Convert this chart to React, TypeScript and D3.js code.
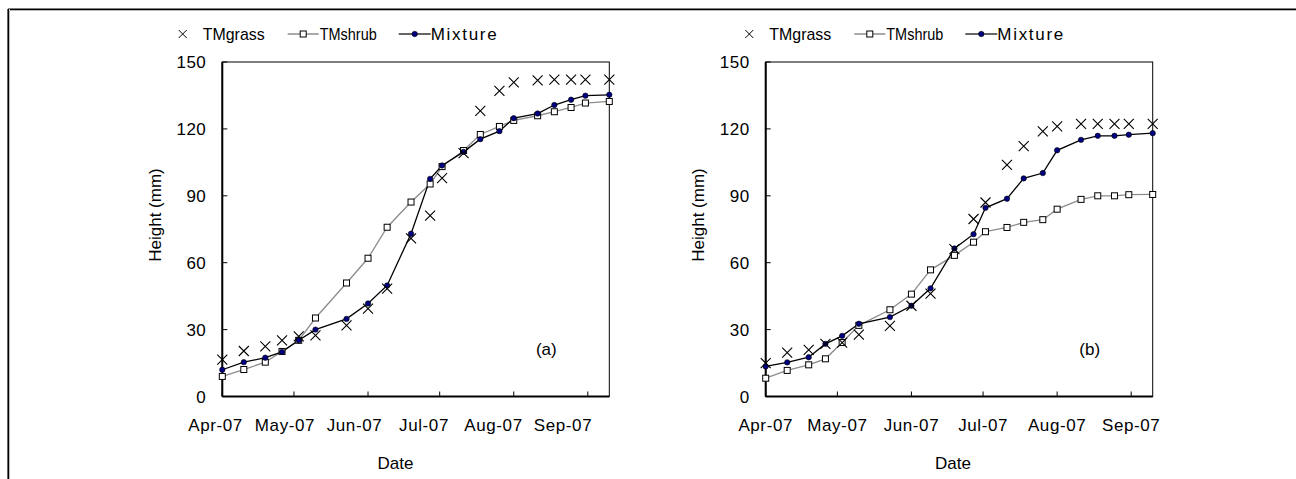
import React from "react";
import * as d3 from "d3";

const sampleDates = [
  "2007-04-01", "2007-04-10", "2007-04-19", "2007-04-26", "2007-05-03", "2007-05-10",
  "2007-05-23", "2007-06-01", "2007-06-09", "2007-06-19", "2007-06-27", "2007-07-02",
  "2007-07-11", "2007-07-18", "2007-07-26", "2007-08-01", "2007-08-11", "2007-08-18",
  "2007-08-25", "2007-08-31", "2007-09-10",
];

const grassA = [16.5, 20.4, 22.5, 25.2, 27.0, 27.4, 31.9, 39.4, 48.4, 70.9, 81.1, 97.9, 109.1, 128.1, 137.1, 140.9, 141.8, 142.1, 142.1, 142.1, 142.1];
const shrubA = [9.0, 12.1, 15.4, 20.2, 25.2, 35.2, 50.9, 62.0, 75.9, 87.2, 95.3, 103.1, 110.3, 117.5, 121.1, 123.8, 125.9, 127.7, 129.6, 131.6, 132.3];
const mixA = [12.0, 15.4, 17.4, 20.0, 25.2, 30.0, 34.8, 41.7, 49.8, 73.0, 97.6, 103.6, 109.7, 115.4, 119.0, 124.8, 126.9, 130.7, 133.1, 134.9, 135.3];

const grassB = [15.0, 19.7, 20.9, 23.6, 24.2, 27.7, 31.7, 40.7, 46.1, 66.1, 79.6, 87.0, 103.9, 112.3, 118.9, 121.1, 122.3, 122.3, 122.3, 122.3, 122.3];
const shrubB = [8.2, 11.7, 14.2, 16.9, 24.2, 31.9, 38.9, 45.9, 56.8, 63.3, 69.2, 73.9, 75.8, 78.1, 79.3, 84.0, 88.4, 90.0, 90.0, 90.5, 90.6];
const mixB = [13.5, 15.3, 17.6, 23.6, 27.2, 32.6, 35.6, 40.7, 48.5, 66.4, 72.8, 84.6, 88.7, 97.8, 100.2, 110.4, 115.1, 116.9, 116.9, 117.4, 118.1];

const monthTicks = ["2007-04-01", "2007-05-01", "2007-06-01", "2007-07-01", "2007-08-01", "2007-09-01"];
const monthLabels = ["Apr-07", "May-07", "Jun-07", "Jul-07", "Aug-07", "Sep-07"];
const yTicks = [0, 30, 60, 90, 120, 150];
const seriesNames = ["TMgrass", "TMshrub", "Mixture"];
const panelLabels = ["(a)", "(b)"];

const parse = d3.utcParse("%Y-%m-%d");
const FONT = "'Liberation Sans', Arial, sans-serif";

type PanelProps = {
  left: number;
  grass: number[];
  shrub: number[];
  mix: number[];
  label: string;
  labelRange: [number, number] | null;
  legendX: number;
  yTitleX: number;
  dateX: number;
};

function Panel({ left, grass, shrub, mix, label, labelRange, legendX, yTitleX, dateX }: PanelProps) {
  const width = 387;
  const top = 62;
  const bottom = 396.5;
  const dates = sampleDates.map((s) => parse(s) as Date);
  const x = d3.scaleUtc().domain([dates[0], dates[dates.length - 1]]).range([left, left + width]);
  const y = d3.scaleLinear().domain([0, 150]).range([bottom, top]);
  const ticks = monthTicks.map((s) => parse(s) as Date);
  const labelScale = labelRange
    ? d3.scalePoint<string>().domain(monthLabels).range(labelRange)
    : null;

  const line = d3
    .line<number>()
    .x((_, i) => x(dates[i]))
    .y((v) => y(v));

  const fs = 17;

  return (
    <g fontFamily={FONT} fill="#000">
      {/* plot frame */}
      <rect x={left} y={top} width={width} height={bottom - top} fill="none" stroke="#000" strokeWidth={1} />
      <line x1={left} x2={left} y1={top} y2={bottom} stroke="#000" strokeWidth={2} />
      <line x1={left} x2={left + width} y1={bottom} y2={bottom} stroke="#000" strokeWidth={2} />
      {/* y ticks */}
      {yTicks.map((t) => (
        <g key={"y" + t}>
          <line x1={left} x2={left + 5} y1={y(t)} y2={y(t)} stroke="#000" strokeWidth={1} />
          <text x={left - 16} y={y(t)} dy="0.36em" textAnchor="end" fontSize={fs} letterSpacing={0.5}>
            {t}
          </text>
        </g>
      ))}
      {/* x ticks */}
      {ticks.map((t, i) => (
        <g key={"x" + i}>
          <line x1={x(t)} x2={x(t)} y1={bottom} y2={bottom - 5} stroke="#000" strokeWidth={1} />
          <text
            x={labelScale ? (labelScale(monthLabels[i]) as number) : x(t)}
            y={431}
            textAnchor="middle"
            fontSize={fs}
            letterSpacing={0.6}
          >
            {monthLabels[i]}
          </text>
        </g>
      ))}
      <text x={dateX} y={469} textAnchor="middle" fontSize={fs}>
        Date
      </text>
      <text
        transform={`translate(${yTitleX},215) rotate(-90)`}
        textAnchor="middle"
        dy="0.36em"
        fontSize={fs}
      >
        Height (mm)
      </text>
      <text x={left + 324} y={349} dy="0.36em" textAnchor="middle" fontSize={fs}>
        {label}
      </text>

      {/* series */}
      <path d={line(shrub) || ""} fill="none" stroke="#8c8c8c" strokeWidth={1.3} />
      <path d={line(mix) || ""} fill="none" stroke="#000" strokeWidth={1.3} />
      {shrub.map((v, i) => (
        <rect
          key={"s" + i}
          x={x(dates[i]) - 3}
          y={y(v) - 3}
          width={6}
          height={6}
          fill="#fff"
          stroke="#000"
          strokeWidth={1}
        />
      ))}
      {mix.map((v, i) => (
        <circle key={"m" + i} cx={x(dates[i])} cy={y(v)} r={2.7} fill="#000080" stroke="#000" strokeWidth={0.6} />
      ))}
      {grass.map((v, i) => {
        const cx = x(dates[i]);
        const cy = y(v);
        const s = 5;
        return (
          <path
            key={"g" + i}
            d={`M${cx - s},${cy - s}L${cx + s},${cy + s}M${cx - s},${cy + s}L${cx + s},${cy - s}`}
            stroke="#000"
            strokeWidth={1.1}
            fill="none"
          />
        );
      })}

      {/* legend */}
      <g transform={`translate(${legendX},34)`}>
        <path d="M-4,-4L4,4M-4,4L4,-4" stroke="#000" strokeWidth={1} />
        <text x={20} y={0} dy="0.36em" fontSize={fs} textLength={62} lengthAdjust="spacingAndGlyphs">
          {seriesNames[0]}
        </text>
        <line x1={105} x2={136} y1={0} y2={0} stroke="#8c8c8c" strokeWidth={1.5} />
        <rect x={117.5} y={-3} width={6} height={6} fill="#fff" stroke="#000" strokeWidth={1} />
        <text x={137} y={0} dy="0.36em" fontSize={fs} textLength={57} lengthAdjust="spacingAndGlyphs">
          {seriesNames[1]}
        </text>
        <line x1={216} x2={248} y1={0} y2={0} stroke="#333" strokeWidth={1.5} />
        <circle cx={232} cy={0} r={2.7} fill="#000080" stroke="#000" strokeWidth={0.6} />
        <text x={248} y={0} dy="0.36em" fontSize={fs} textLength={66} lengthAdjust="spacing">
          {seriesNames[2]}
        </text>
      </g>
    </g>
  );
}

export default function App() {
  return (
    <svg
      width={1296}
      height={479}
      style={{ position: "absolute", left: 0, top: 0, background: "#fff" }}
    >
      <rect x={0} y={0} width={1296} height={479} fill="#fff" />
      {/* outer frame */}
      <line x1={8} x2={1296} y1={10.5} y2={10.5} stroke="#bbb" strokeWidth={1} />
      <line x1={8} x2={1296} y1={9.2} y2={9.2} stroke="#000" strokeWidth={1.6} />
      <line x1={9.5} x2={9.5} y1={9} y2={479} stroke="#bbb" strokeWidth={1} />
      <line x1={8.2} x2={8.2} y1={9} y2={479} stroke="#000" strokeWidth={1.6} />
      <Panel
        left={222.3}
        grass={grassA}
        shrub={shrubA}
        mix={mixA}
        label={panelLabels[0]}
        labelRange={[215.5, 563]}
        legendX={182.7}
        yTitleX={155}
        dateX={395.5}
      />
      <Panel
        left={765.7}
        grass={grassB}
        shrub={shrubB}
        mix={mixB}
        label={panelLabels[1]}
        labelRange={null}
        legendX={749.3}
        yTitleX={698}
        dateX={953}
      />
    </svg>
  );
}
